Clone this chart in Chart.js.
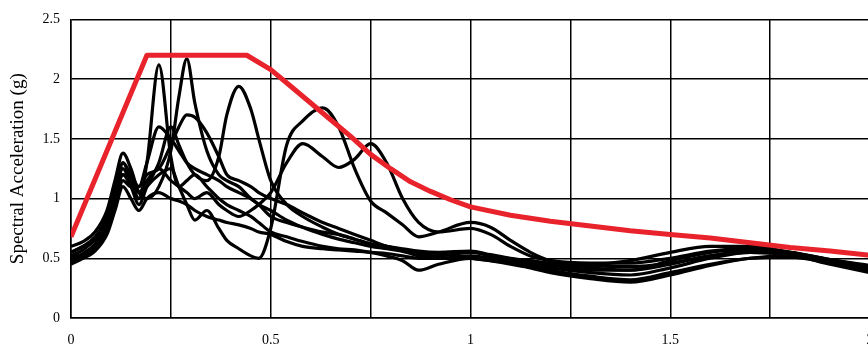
<!DOCTYPE html>
<html>
<head>
<meta charset="utf-8">
<script src="https://cdn.jsdelivr.net/npm/chart.js@4/dist/chart.umd.min.js"></script>
<style>
  html, body { margin: 0; padding: 0; background: #fff; overflow: hidden; }
  #wrap { width: 880px; height: 350px; }
</style>
</head>
<body>
<div id="wrap"><canvas id="chart" width="880" height="350"></canvas></div>
<script>
// periods (s) shared by the recorded spectra
const periods = [0, 0.03, 0.06, 0.09, 0.11, 0.13, 0.15, 0.17, 0.19, 0.22, 0.25, 0.27, 0.29, 0.31, 0.34,
  0.37, 0.39, 0.42, 0.45, 0.47, 0.5, 0.54, 0.58, 0.63, 0.67, 0.71, 0.75, 0.79, 0.83, 0.87,
  0.92, 1.0, 1.05, 1.1, 1.15, 1.2, 1.3, 1.4, 1.5, 1.6, 1.7, 1.8, 1.9, 2.0];

// spectral acceleration (g) of each record
const record1 = [0.55, 0.6, 0.68, 0.85, 1.1, 1.3, 1.15, 1.0, 1.3, 2.12, 1.35, 1.1, 1.15, 1.2, 1.1,
  1.0, 0.95, 0.9, 0.85, 0.8, 0.72, 0.68, 0.64, 0.6, 0.58, 0.57, 0.55, 0.54, 0.52, 0.5,
  0.5, 0.52, 0.5, 0.47, 0.45, 0.42, 0.38, 0.36, 0.42, 0.5, 0.55, 0.53, 0.47, 0.41];
const record2 = [0.6, 0.64, 0.72, 0.9, 1.15, 1.38, 1.25, 1.05, 1.0, 1.1, 1.4, 1.85, 2.17, 1.8, 1.4,
  1.2, 1.15, 1.1, 1.0, 0.95, 0.85, 0.8, 0.76, 0.72, 0.7, 0.66, 0.62, 0.6, 0.58, 0.56,
  0.55, 0.56, 0.53, 0.5, 0.48, 0.46, 0.45, 0.48, 0.55, 0.6, 0.6, 0.55, 0.49, 0.43];
const record3 = [0.5, 0.54, 0.62, 0.8, 1.0, 1.2, 1.1, 0.95, 1.1, 1.3, 1.6, 1.45, 1.3, 1.2, 1.15,
  1.35, 1.7, 1.94, 1.75, 1.5, 1.15, 0.95, 0.85, 0.76, 0.7, 0.66, 0.62, 0.6, 0.57, 0.55,
  0.54, 0.5, 0.48, 0.46, 0.45, 0.44, 0.4, 0.4, 0.48, 0.55, 0.57, 0.54, 0.48, 0.42];
const record4 = [0.52, 0.57, 0.66, 0.85, 1.05, 1.25, 1.12, 1.0, 1.1, 1.2, 1.25, 1.1, 0.95, 0.82, 0.9,
  0.75, 0.65, 0.58, 0.52, 0.5, 0.75, 1.45, 1.65, 1.76, 1.6, 1.25, 0.98, 0.88, 0.78, 0.68,
  0.72, 0.8, 0.76, 0.65, 0.55, 0.48, 0.44, 0.43, 0.46, 0.52, 0.55, 0.53, 0.47, 0.4];
const record5 = [0.55, 0.6, 0.66, 0.82, 1.0, 1.2, 1.15, 1.05, 1.15, 1.25, 1.15, 1.1, 1.05, 1.0, 1.05,
  0.95, 0.9, 0.85, 0.9, 0.95, 1.05, 1.3, 1.46, 1.35, 1.26, 1.33, 1.46, 1.3, 1.0, 0.8,
  0.72, 0.75, 0.7, 0.6, 0.52, 0.48, 0.46, 0.46, 0.5, 0.56, 0.58, 0.55, 0.48, 0.42];
const record6 = [0.5, 0.52, 0.6, 0.76, 0.95, 1.3, 1.2, 1.1, 1.3, 1.6, 1.5, 1.4, 1.3, 1.25, 1.2,
  1.15, 1.1, 1.05, 1.0, 0.95, 0.9, 0.82, 0.76, 0.7, 0.66, 0.63, 0.6, 0.58, 0.56, 0.54,
  0.52, 0.55, 0.52, 0.48, 0.44, 0.4, 0.35, 0.32, 0.38, 0.45, 0.5, 0.51, 0.46, 0.4];
const record7 = [0.45, 0.5, 0.58, 0.74, 0.92, 1.15, 1.1, 1.1, 1.2, 1.25, 1.45, 1.6, 1.7, 1.68, 1.55,
  1.35, 1.2, 1.15, 1.1, 1.05, 1.0, 0.95, 0.88, 0.8, 0.75, 0.7, 0.65, 0.6, 0.56, 0.52,
  0.5, 0.5, 0.48, 0.45, 0.42, 0.38, 0.33, 0.3, 0.36, 0.44, 0.5, 0.52, 0.45, 0.38];
const record8 = [0.48, 0.5, 0.56, 0.7, 0.9, 1.1, 1.0, 0.9, 1.0, 1.05, 1.0, 0.98, 0.95, 0.9, 0.85,
  0.82, 0.8, 0.78, 0.75, 0.72, 0.7, 0.64, 0.6, 0.58, 0.57, 0.56, 0.55, 0.52, 0.48, 0.4,
  0.45, 0.5, 0.5, 0.48, 0.46, 0.45, 0.42, 0.4, 0.45, 0.52, 0.56, 0.55, 0.49, 0.44];

const records = [record1, record2, record3, record4, record5, record6, record7, record8];

// design spectrum (red)
const designPeriods = [0, 0.19, 0.44, 0.5, 0.55, 0.6, 0.65, 0.7, 0.75, 0.8, 0.85, 0.9, 0.95, 1.0,
  1.1, 1.2, 1.3, 1.4, 1.5, 1.6, 1.7, 1.8, 1.9, 2.0];
const designValues = [0.68, 2.2, 2.2, 2.08, 1.94, 1.8, 1.66, 1.52, 1.37, 1.25, 1.14, 1.06, 0.99, 0.93,
  0.86, 0.81, 0.77, 0.73, 0.7, 0.67, 0.63, 0.59, 0.56, 0.525];

const font = { family: "'Liberation Serif', 'DejaVu Serif', serif", size: 14 };

const datasets = [{
  data: designPeriods.map((t, i) => ({ x: t, y: designValues[i] })),
  borderColor: "#e8232b",
  borderWidth: 5,
  pointRadius: 0,
  tension: 0,
  borderJoinStyle: "round",
  order: 0
}];

records.forEach(r => {
  datasets.push({
    data: periods.map((t, i) => ({ x: t, y: r[i] })),
    borderColor: "#000",
    borderWidth: 3.2,
    pointRadius: 0,
    cubicInterpolationMode: "monotone",
    order: 1
  });
});

new Chart(document.getElementById("chart"), {
  type: "line",
  data: { datasets },
  options: {
    responsive: false,
    animation: false,
    layout: { padding: { top: 17, right: 10, left: 0, bottom: 0 } },
    plugins: { legend: { display: false }, tooltip: { enabled: false } },
    scales: {
      x: {
        type: "linear",
        min: 0,
        max: 2,
        border: { color: "#000", width: 1.5 },
        grid: { color: "#000", lineWidth: 1.5, drawTicks: false },
        ticks: {
          stepSize: 0.25,
          autoSkip: false,
          maxRotation: 0,
          padding: 14,
          color: "#000",
          font,
          callback: v => (v % 0.5 === 0 ? String(v) : "")
        },
        afterFit: s => { s.height = 32; s.paddingRight = 0; s.paddingLeft = 0; }
      },
      y: {
        min: 0,
        max: 2.5,
        border: { color: "#000", width: 1.5 },
        grid: { color: "#000", lineWidth: 1.5, drawTicks: false },
        ticks: {
          stepSize: 0.5,
          padding: 11,
          color: "#000",
          font,
          callback: v => String(v)
        },
        title: {
          display: true,
          text: "Spectral Acceleration (g)",
          color: "#000",
          font: { family: font.family, size: 19 },
          padding: { top: 7, bottom: 0 }
        },
        afterFit: s => { s.width = 71; }
      }
    }
  }
});
</script>
</body>
</html>
